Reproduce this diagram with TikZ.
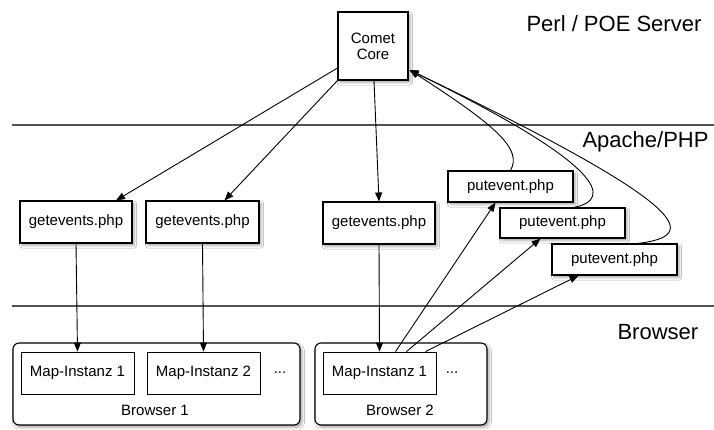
\documentclass[tikz,border=0pt]{standalone}
\usepackage{fontspec}
\setmainfont{Liberation Sans}
\usetikzlibrary{arrows.meta,shadows.blur,calc}
\begin{document}
\begin{tikzpicture}[x=1pt,y=-1pt,
  box/.style={draw=black,line width=1.1pt,fill=white,inner sep=0pt,
    font=\fontsize{15}{17}\selectfont,align=center},
  shade box/.style={box,blur shadow={shadow xshift=2pt,shadow yshift=-2.5pt,
    shadow blur radius=2.5pt,shadow opacity=35}},
  frame/.style={draw=black,line width=1.1pt,fill=white,rounded corners=6pt,
    blur shadow={shadow xshift=2pt,shadow yshift=-2.5pt,
    shadow blur radius=2.5pt,shadow opacity=35}},
  tier/.style={draw=black!68,line width=1.8pt},
  tierlabel/.style={font=\fontsize{22}{24}\selectfont,anchor=west},
  small/.style={font=\fontsize{15}{17}\selectfont},
  link/.style={line width=0.9pt,-{Triangle[length=9pt,width=7pt]}}]

\useasboundingbox[fill=white] (0,0) rectangle (714,429);

% tier separators and labels
\coordinate (r1a) at (12,125);  \coordinate (r1b) at (714,125);
\coordinate (r2a) at (12,306);  \coordinate (r2b) at (714,306);
\draw[tier] (r1a) -- (r1b);
\draw[tier] (r2a) -- (r2b);
\node[tierlabel] (perl) at (523,24) {Perl / POE Server};
\node[tierlabel] (apache) at (579,142) {Apache/PHP};
\node[tierlabel] (browser) at (614,332) {Browser};

% browser frames
\node[frame,minimum width=287pt,minimum height=82pt] (b1) at (156.5,384) {};
\node[frame,minimum width=172pt,minimum height=82pt] (b2) at (401,384) {};

% server
\node[shade box,minimum width=70pt,minimum height=68pt] (core) at (373,46) {Comet\\[-1pt]Core};

% getevents
\node[shade box,minimum width=112pt,minimum height=42pt] (ge1) at (76,222) {getevents.php};
\node[shade box,minimum width=113pt,minimum height=42pt] (ge2) at (202.5,222) {getevents.php};
\node[shade box,minimum width=112pt,minimum height=42pt] (ge3) at (379,223) {getevents.php};

% putevent
\node[shade box,minimum width=125pt,minimum height=31pt] (pe1) at (510.5,186.5) {putevent.php};
\node[shade box,minimum width=125pt,minimum height=30pt] (pe2) at (562.5,223) {putevent.php};
\node[shade box,minimum width=125pt,minimum height=31pt] (pe3) at (614.5,259.5) {putevent.php};

% map instances
\node[box,line width=0.9pt,minimum width=113pt,minimum height=42pt] (mi1) at (77.5,373) {Map-Instanz 1};
\node[box,line width=0.9pt,minimum width=113pt,minimum height=42pt] (mi2) at (203.5,373) {Map-Instanz 2};
\node[box,line width=0.9pt,minimum width=113pt,minimum height=42pt] (mi3) at (379.5,373) {Map-Instanz 1};
\node[small] (dots1) at (280,373) {...};
\node[small] (dots2) at (452,373) {...};
\node[small] (b1label) at (155,410) {Browser 1};
\node[small] (b2label) at (400,410) {Browser 2};

% core -> getevents
\draw[link] ($(core.west)+(0,22)$) -- ($(ge1.north)+(40,0)$);
\draw[link] (core.south west) -- ($(ge2.north)+(22,0)$);
\draw[link] ($(core.south)+(1,0)$) -- (ge3.north);

% getevents -> map instances
\draw[link] (ge1.south) -- (mi1.north);
\draw[link] (ge2.south) -- (mi2.north);
\draw[link] (ge3.south) -- (mi3.north);

% map instance -> putevent
\draw[link] ($(mi3.north)+(16,0)$) -- ($(pe1.south)+(-15,0)$);
\draw[link] ($(mi3.north)+(27,0)$) -- ($(pe2.south)+(-22,0)$);
\draw[link] ($(mi3.north)+(46,0)$) -- ($(pe3.south)+(-36,0)$);

% putevent -> core (curved returns)
\coordinate (coreIn) at ($(core.east)+(1,24)$);
\draw[link] (pe1.north) .. controls (522,150) and (500,128) .. (coreIn);
\draw[link] ($(pe2.north)+(11,0)$) .. controls (614,200) and (605,165) .. (coreIn);
\draw[link] ($(pe3.north)+(23,0)$) .. controls (702,236) and (692,206) .. (coreIn);
\end{tikzpicture}
\end{document}
